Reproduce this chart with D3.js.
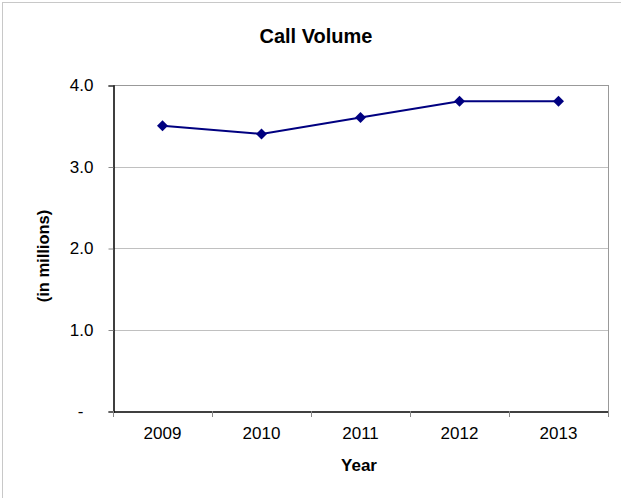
<!DOCTYPE html>
<html>
<head>
<meta charset="utf-8">
<script src="https://cdn.jsdelivr.net/npm/d3@7"></script>
<style>
  body { margin: 0; background: #fff; }
  text { font-family: "Liberation Sans", Arial, sans-serif; }
</style>
</head>
<body>
<div id="chart"></div>
<script>
var years = ["2009", "2010", "2011", "2012", "2013"];
var calls = [3.5, 3.4, 3.6, 3.8, 3.8];
var yTicks = [0, 1, 2, 3, 4];

function init() {
    var w = 621, h = 498;
    var pLeft = 113, pRight = 608, pTop = 85, pBottom = 411;

    var svg = d3.select("#chart").append("svg")
        .attr("width", w)
        .attr("height", h);

    // outer border (only top and left visible)
    svg.append("rect")
        .attr("x", 2.5).attr("y", 2.5)
        .attr("width", w + 10).attr("height", h + 10)
        .attr("fill", "none")
        .attr("stroke", "#c8c8c8");

    var x = d3.scaleBand().domain(years).range([pLeft, pRight]);
    var y = d3.scaleLinear().domain([0, 4]).range([pBottom, pTop]);

    // gridlines
    svg.selectAll("line.grid")
        .data(yTicks.slice(1))
        .enter().append("line")
        .attr("class", "grid")
        .attr("x1", pLeft).attr("x2", pRight)
        .attr("y1", function(d) { return Math.round(y(d)) + 0.5; })
        .attr("y2", function(d) { return Math.round(y(d)) + 0.5; })
        .attr("stroke", function(d) { return d == 4 ? "#999" : "#c0c0c0"; })
        .attr("stroke-width", 1);

    // right frame
    svg.append("line")
        .attr("x1", pRight + 0.5).attr("x2", pRight + 0.5)
        .attr("y1", pTop).attr("y2", pBottom)
        .attr("stroke", "#999");

    // y axis
    var yAxis = d3.axisLeft(y)
        .tickValues(yTicks)
        .tickSize(5)
        .tickPadding(15)
        .tickFormat(function(d) { return d == 0 ? "-" : d3.format(".1f")(d); });

    var gy = svg.append("g")
        .attr("transform", "translate(" + (pLeft + 0.5) + ",0.5)")
        .call(yAxis);
    gy.select(".domain").attr("stroke", "#000").attr("stroke-width", 1.5);
    gy.selectAll(".tick line").attr("stroke", "#888");
    gy.selectAll(".tick text")
        .attr("font-size", 17)
        .attr("fill", "#000")
        .attr("font-family", "Liberation Sans, Arial, sans-serif");
    gy.selectAll(".tick").filter(function(d) { return d == 0; }).select("text")
        .attr("dx", -10);

    // x axis: labels centred, ticks on category boundaries
    var xAxis = d3.axisBottom(x).tickSize(0).tickPadding(15);
    var gx = svg.append("g")
        .attr("transform", "translate(0," + (pBottom + 0.5) + ")")
        .call(xAxis);
    gx.select(".domain").attr("stroke", "#000").attr("stroke-width", 1.5);
    gx.selectAll(".tick text")
        .attr("font-size", 17)
        .attr("fill", "#000")
        .attr("font-family", "Liberation Sans, Arial, sans-serif");

    var bounds = years.map(function(d) { return x(d); }).concat([pRight]);
    svg.selectAll("line.xt")
        .data(bounds)
        .enter().append("line")
        .attr("class", "xt")
        .attr("x1", function(d) { return Math.round(d) + 0.5; })
        .attr("x2", function(d) { return Math.round(d) + 0.5; })
        .attr("y1", pBottom).attr("y2", pBottom + 6)
        .attr("stroke", "#888");

    // line
    var line = d3.line()
        .x(function(d, i) { return x(years[i]) + x.bandwidth() / 2; })
        .y(function(d) { return y(d); });

    svg.append("path")
        .datum(calls)
        .attr("d", line)
        .attr("fill", "none")
        .attr("stroke", "#000080")
        .attr("stroke-width", 2);

    svg.selectAll("path.pt")
        .data(calls)
        .enter().append("path")
        .attr("class", "pt")
        .attr("d", d3.symbol().type(d3.symbolSquare).size(60))
        .attr("transform", function(d, i) {
            return "translate(" + (x(years[i]) + x.bandwidth() / 2) + "," + y(d) + ") rotate(45)";
        })
        .attr("fill", "#000080");

    // titles
    svg.append("text")
        .attr("x", 316).attr("y", 43)
        .attr("text-anchor", "middle")
        .attr("font-size", 20)
        .attr("font-weight", "bold")
        .text("Call Volume");

    svg.append("text")
        .attr("x", 359).attr("y", 471)
        .attr("text-anchor", "middle")
        .attr("font-size", 17)
        .attr("font-weight", "bold")
        .text("Year");

    svg.append("text")
        .attr("transform", "translate(49,256) rotate(-90)")
        .attr("text-anchor", "middle")
        .attr("font-size", 16.5)
        .attr("font-weight", "bold")
        .text("(in millions)");
}
window.onload = init;
</script>
</body>
</html>
